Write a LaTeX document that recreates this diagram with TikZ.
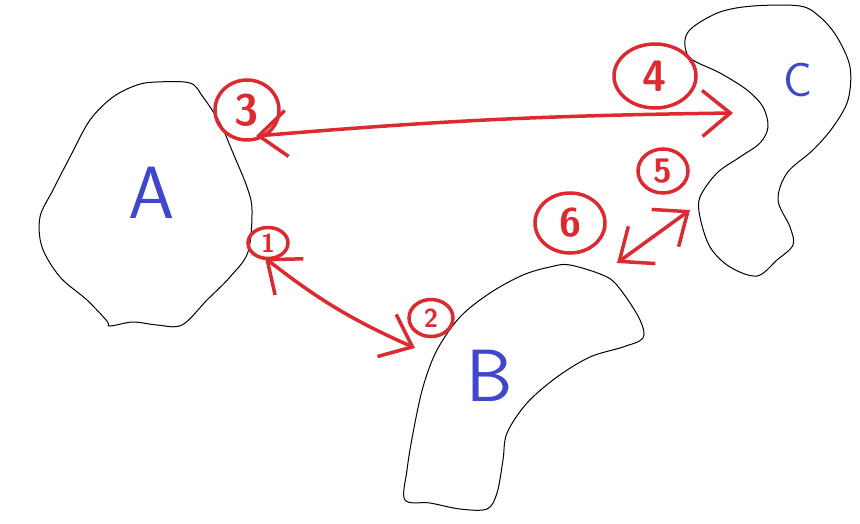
\documentclass[tikz,border=0pt]{standalone}
\usepackage{tikz}
\usetikzlibrary{arrows.meta, shapes.geometric}
\definecolor{sketchred}{HTML}{DC2A30}
\definecolor{sketchblue}{HTML}{3F48CC}

\begin{document}
\begin{tikzpicture}[
  x=1pt, y=-1pt,
  blob/.style={draw=black, line width=1pt},
  region/.style={text=sketchblue, inner sep=0pt},
  numbered/.style={ellipse, draw=sketchred, line width=3.5pt,
    text=sketchred, inner sep=0pt},
  link/.style={<->, sketchred, line width=3.5pt, line cap=round},
  >={Straight Barb[length=28pt, width=46pt]}
]
  \useasboundingbox (0,0) rectangle (860,524);

  % Regions
  \draw[blob] plot[smooth cycle, tension=0.55] coordinates {
    (110,326) (133,322) (157,325) (182,325) (207,300) (230,277)
    (248,252) (252,210) (247,187) (233,153) (220,123) (203,97)
    (190,83) (157,82) (137,85) (113,97) (90,120) (70,157)
    (53,190) (40,217) (42,247) (60,277) (87,300) (107,321)};
  \draw[blob] plot[smooth cycle, tension=0.55] coordinates {
    (405,500) (430,503) (460,509) (487,509) (497,493) (503,460)
    (507,433) (527,403) (557,377) (590,357) (623,347) (643,338)
    (640,320) (623,293) (607,277) (570,265) (550,267) (523,275)
    (490,293) (460,317) (437,350) (423,387) (413,433) (407,470)};
  \draw[blob] plot[smooth cycle, tension=0.55] coordinates {
    (757,276) (730,267) (710,247) (700,217) (700,197) (717,173)
    (740,157) (760,143) (768,127) (763,107) (747,90) (720,73)
    (690,58) (685,40) (693,27) (720,12) (753,6) (800,6)
    (820,17) (837,37) (850,67) (848,100) (833,127) (813,150)
    (787,173) (778,200) (790,227) (793,245) (777,260)};

  % Labels
  \node[region, font=\fontsize{74}{74}\sffamily] (A) at (152,193) {A};
  \node[region, font=\fontsize{74}{74}\sffamily] (B) at (490,376) {B};
  \node[region, font=\fontsize{48}{48}\sffamily] (C) at (798,80) {C};

  % Circled numbers
  \foreach \n/\x/\y/\w/\h/\fs in {1/268/243/40/31/26, 2/431/318/44/37/26,
      3/247/110/64/60/44, 4/655/76/82/64/44, 5/663/171/50/44/34,
      6/570/223/70/60/40} {
    \node[numbered, minimum width=\w pt, minimum height=\h pt,
      font=\fontsize{\fs}{\fs}\sffamily\bfseries] (num\n) at (\x,\y) {\n};
  }

  % Arrow ends
  \coordinate (e1) at (265,258);
  \coordinate (e2) at (415,348);
  \coordinate (e3) at (256,136);
  \coordinate (e4) at (733,113);
  \coordinate (e5) at (690,210);
  \coordinate (e6) at (617,263);

  % Links
  \draw[link] (e1) to[bend right=7] (e2);
  \draw[link] (e3) to[bend left=2] (e4);
  \draw[link] (e6) -- (e5);
\end{tikzpicture}
\end{document}
